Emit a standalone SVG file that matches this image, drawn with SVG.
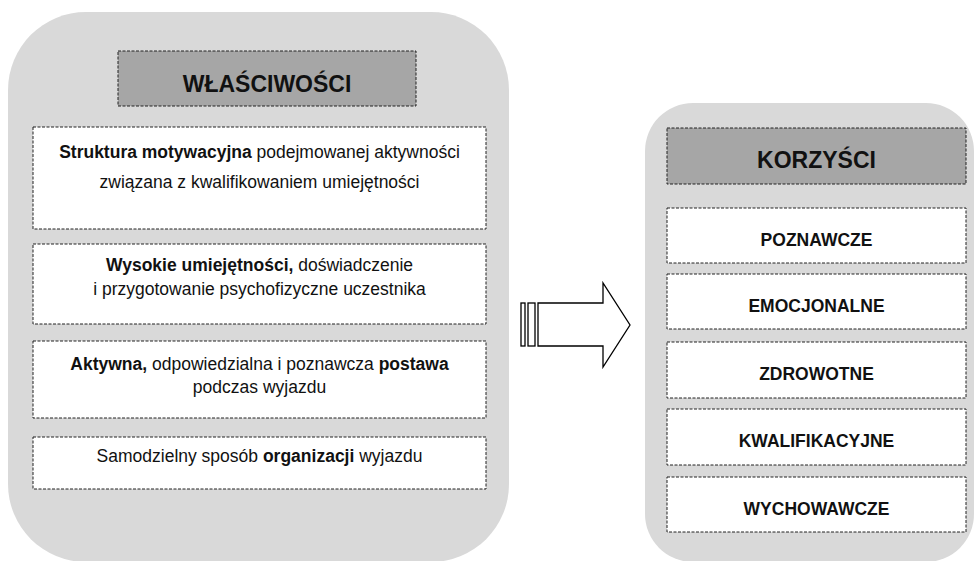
<svg xmlns="http://www.w3.org/2000/svg" width="975" height="561" viewBox="0 0 975 561">
<style>
.panel{fill:#d9d9d9;stroke:none}
.head{fill:#a6a6a6;stroke:#222;stroke-width:1;stroke-dasharray:3 1.5}
.box{fill:#fff;stroke:#222;stroke-width:1;stroke-dasharray:3 1.5}
text{font-family:"Liberation Sans",Arial,sans-serif;fill:#111;text-anchor:middle}
.t{font-size:23px;font-weight:bold}
.b{font-size:17.5px}
.r{font-size:17.5px;font-weight:bold}
.bold{font-weight:bold}
.arrow{fill:#fff;stroke:#000;stroke-width:1.3}
</style>
<g id="panel-left">
<rect class="panel" x="8" y="12" width="501" height="550" rx="78" ry="78"/>
</g>
<g id="panel-right">
<rect class="panel" x="645" y="103" width="329" height="459" rx="48" ry="48"/>
</g>
<g id="title-left">
<rect class="head" x="118" y="51" width="298" height="55"/>
<text class="t" x="267" y="92">WŁAŚCIWOŚCI</text>
</g>
<g id="w1">
<rect class="box" x="33" y="127" width="453" height="102"/>
<text class="b" x="259.5" y="158"><tspan class="bold">Struktura motywacyjna</tspan> podejmowanej aktywności</text>
<text class="b" x="259.5" y="188">związana z kwalifikowaniem umiejętności</text>
</g>
<g id="w2">
<rect class="box" x="33" y="244" width="453" height="80"/>
<text class="b" x="259.5" y="271"><tspan class="bold">Wysokie umiejętności,</tspan> doświadczenie</text>
<text class="b" x="259.5" y="295">i przygotowanie psychofizyczne uczestnika</text>
</g>
<g id="w3">
<rect class="box" x="33" y="341" width="453" height="77"/>
<text class="b" x="259.5" y="370"><tspan class="bold">Aktywna,</tspan> odpowiedzialna i poznawcza <tspan class="bold">postawa</tspan></text>
<text class="b" x="259.5" y="393">podczas wyjazdu</text>
</g>
<g id="w4">
<rect class="box" x="33" y="437" width="453" height="52"/>
<text class="b" x="259.5" y="462">Samodzielny sposób <tspan class="bold">organizacji</tspan> wyjazdu</text>
</g>
<g id="title-right">
<rect class="head" x="667" y="128" width="299" height="56"/>
<text class="t" x="816.5" y="168">KORZYŚCI</text>
</g>
<g id="k1">
<rect class="box" x="667" y="208" width="299" height="55"/>
<text class="r" x="816.5" y="246">POZNAWCZE</text>
</g>
<g id="k2">
<rect class="box" x="667" y="274" width="299" height="55"/>
<text class="r" x="816.5" y="312">EMOCJONALNE</text>
</g>
<g id="k3">
<rect class="box" x="667" y="342" width="299" height="56"/>
<text class="r" x="816.5" y="380">ZDROWOTNE</text>
</g>
<g id="k4">
<rect class="box" x="667" y="409" width="299" height="56"/>
<text class="r" x="816.5" y="447">KWALIFIKACYJNE</text>
</g>
<g id="k5">
<rect class="box" x="667" y="477" width="299" height="55"/>
<text class="r" x="816.5" y="515">WYCHOWAWCZE</text>
</g>
<g id="connectors">
<rect class="arrow" x="521" y="303" width="4" height="43"/>
<rect class="arrow" x="528" y="303" width="7" height="43"/>
<path class="arrow" d="M538,303 H603 V283 L630,325 L603,367 V346 H538 Z"/>
</g>
</svg>
